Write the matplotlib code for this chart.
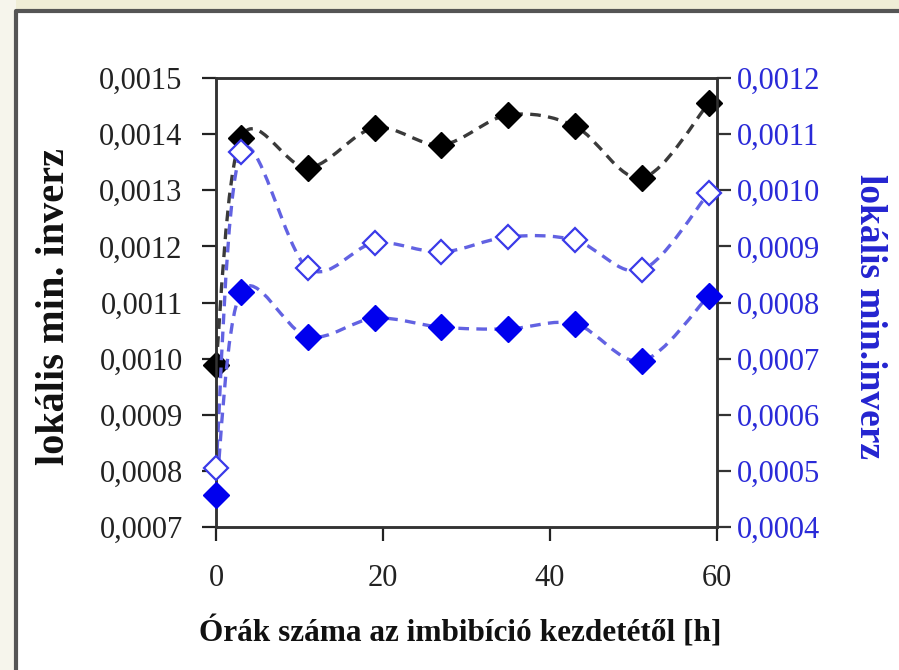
import matplotlib
matplotlib.use("Agg")
import matplotlib.pyplot as plt
from matplotlib.path import Path
from matplotlib.patches import PathPatch, Rectangle
from matplotlib.ticker import FuncFormatter, MultipleLocator
import numpy as np

# ---- data ----
hours = [0, 3, 11, 19, 27, 35, 43, 51, 59]
black_left = [0.000989, 0.001393, 0.001340, 0.001411, 0.001381, 0.001434, 0.001414, 0.001322, 0.001455]
blue_open_right = [0.000505, 0.001068, 0.000861, 0.000906, 0.000890, 0.000917, 0.000911, 0.000858, 0.000995]
blue_filled_right = [0.000457, 0.000819, 0.000739, 0.000772, 0.000756, 0.000753, 0.000762, 0.000696, 0.000812]
x_ticks = [0, 20, 40, 60]
xlabel = "Órák száma az imbibíció kezdetétől [h]"
ylabel_left = "lokális min. inverz"
ylabel_right = "lokális min.inverz"

plt.rcParams['font.family'] = ['Liberation Serif', 'DejaVu Serif']

W, H = 899, 670
fig = plt.figure(figsize=(W / 100, H / 100), dpi=100)
fig.patch.set_facecolor("white")

# outer decoration (frame of the slide)
fig.patches.append(Rectangle((0, 1 - 11 / H), 1, 11 / H, transform=fig.transFigure,
                             facecolor="#efedd6", edgecolor="none", zorder=-5))
fig.patches.append(Rectangle((0, 0), 16 / W, 1, transform=fig.transFigure,
                             facecolor="#f6f5ec", edgecolor="none", zorder=-5))
fig.lines.append(plt.Line2D([16 / W, 16 / W, 1], [0, 1 - 11 / H, 1 - 11 / H],
                            transform=fig.transFigure, color="#555555", lw=3, zorder=-4))

ax = fig.add_axes([216 / W, 1 - 527 / H, (717 - 216) / W, (527 - 78) / H])
ax2 = ax.twinx()

blue = "#0000ee"
line_blue = "#6262e2"


def smooth_path(xs, ys, tension=1 / 6):
    pts = np.column_stack([xs, ys]).astype(float)
    n = len(pts)
    verts = [pts[0]]
    codes = [Path.MOVETO]
    for i in range(n - 1):
        p0 = pts[i - 1] if i > 0 else pts[i]
        p1 = pts[i]
        p2 = pts[i + 1]
        p3 = pts[i + 2] if i + 2 < n else pts[i + 1]
        c1 = p1 + (p2 - p0) * tension
        c2 = p2 - (p3 - p1) * tension
        verts += [c1, c2, p2]
        codes += [Path.CURVE4] * 3
    return Path(verts, codes)


def draw_smooth(axis, xs, ys, color):
    patch = PathPatch(smooth_path(xs, ys), facecolor="none", edgecolor=color,
                      lw=2.4, linestyle=(0, (3.2, 2.2)), zorder=2, clip_on=False)
    axis.add_patch(patch)


draw_smooth(ax, hours, black_left, "#3a3a3a")
ax.plot(hours, black_left, linestyle="none", marker="D", markersize=13,
        color="black", zorder=3, clip_on=False)

draw_smooth(ax2, hours, blue_open_right, line_blue)
draw_smooth(ax2, hours, blue_filled_right, line_blue)
ax2.plot(hours, blue_open_right, linestyle="none", marker="D", markersize=12.5,
         markerfacecolor="white", markeredgecolor="#3a3ae8", markeredgewidth=1.6,
         zorder=3, clip_on=False)
ax2.plot(hours, blue_filled_right, linestyle="none", marker="D", markersize=13,
         color=blue, zorder=3, clip_on=False)

ax.set_xlim(0, 60)
ax.set_ylim(0.0007, 0.0015)
ax2.set_ylim(0.0004, 0.0012)
ax.set_xticks(x_ticks)
ax.yaxis.set_major_locator(MultipleLocator(0.0001))
ax2.yaxis.set_major_locator(MultipleLocator(0.0001))

fmt = FuncFormatter(lambda v, p: f"{v:.4f}".replace(".", ","))
ax.yaxis.set_major_formatter(fmt)
ax2.yaxis.set_major_formatter(fmt)

for a in (ax, ax2):
    for s in a.spines.values():
        s.set_linewidth(1.8)
        s.set_color("#333333")

ax.tick_params(axis="both", direction="out", length=10, width=1.6, labelsize=22,
               colors="#222222")
ax.tick_params(axis="y", pad=14)
ax.tick_params(axis="x", pad=17)
ax2.tick_params(axis="y", direction="out", length=10, width=1.6, labelsize=22,
                colors="#333333", labelcolor="#2a2ad8", pad=4)

fig.text(55 / W, 1 - 307 / H, ylabel_left, rotation=90, ha="center", va="center",
         fontsize=29, fontweight="bold", color="#111111")
fig.text(869 / W, 1 - 316 / H, ylabel_right, rotation=-90, ha="center", va="center",
         fontsize=27, fontweight="bold", color="#2424d0")
fig.text(460 / W, 1 - 632 / H, xlabel, ha="center", va="center",
         fontsize=22.5, fontweight="bold", color="#111111")

fig.savefig("out.png", dpi=100, facecolor=fig.get_facecolor())
